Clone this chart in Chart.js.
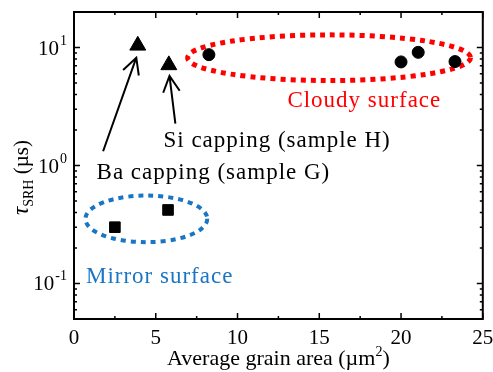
<!DOCTYPE html>
<html>
<head>
<meta charset="utf-8">
<script src="https://cdn.jsdelivr.net/npm/chart.js@4"></script>
<style>
  html, body { margin: 0; padding: 0; background: #fff; }
  canvas { display: block; }
</style>
</head>
<body>
<canvas id="chart" width="493" height="372"></canvas>
<script>
// ----- data -----
const mirrorX = [2.5, 5.75];
const mirrorY = [0.30, 0.42];
const cappingX = [3.9, 5.8];
const cappingY = [10.4, 7.1];
const cloudyX = [8.25, 20.0, 21.05, 23.3];
const cloudyY = [8.7, 7.55, 9.1, 7.6];

const xTickValues = [0, 5, 10, 15, 20, 25];
const yDecades = [-1, 0, 1];

// dotted groups: [xMin, xMax, yMin, yMax] in data units
const mirrorGroup = [0.7, 8.15, 0.224, 0.556];
const cloudyGroup = [6.95, 24.25, 5.25, 12.8];

// arrows: [tailX, tailY, tipX, tipY]
const baArrow = [1.78, 1.32, 3.81, 8.2];
const siArrow = [6.2, 2.26, 5.84, 5.75];

// labels: text, x start, baseline y
const labels = [
    { text: "Cloudy surface", x: 13.05, y: 3.16, color: "#ff0000" },
    { text: "Si capping (sample H)", x: 5.47, y: 1.43, color: "#000000" },
    { text: "Ba capping (sample G)", x: 1.38, y: 0.775, color: "#000000" },
    { text: "Mirror surface", x: 0.73, y: 0.1, color: "#1a75c4" }
];

const SERIF = "'Liberation Serif', serif";

const toPts = (xs, ys) => xs.map((x, i) => ({ x: x, y: ys[i] }));

/* =========================
        DECORATIONS
========================= */
function drawEllipse(ctx, xs, ys, g, color, width) {
    const x0 = xs.getPixelForValue(g[0]), x1 = xs.getPixelForValue(g[1]);
    const y0 = ys.getPixelForValue(g[3]), y1 = ys.getPixelForValue(g[2]);
    ctx.save();
    ctx.strokeStyle = color;
    ctx.lineWidth = width;
    ctx.setLineDash([5, 5]);
    ctx.beginPath();
    ctx.ellipse((x0 + x1) / 2, (y0 + y1) / 2, (x1 - x0) / 2, (y1 - y0) / 2, 0, 0, Math.PI * 2);
    ctx.stroke();
    ctx.restore();
}

function drawArrow(ctx, xs, ys, a) {
    const tx = xs.getPixelForValue(a[0]), ty = ys.getPixelForValue(a[1]);
    const hx = xs.getPixelForValue(a[2]), hy = ys.getPixelForValue(a[3]);
    const ang = Math.atan2(ty - hy, tx - hx);
    const len = 18, spread = 0.48;
    ctx.save();
    ctx.strokeStyle = "#000";
    ctx.lineWidth = 2;
    ctx.beginPath();
    ctx.moveTo(tx, ty);
    ctx.lineTo(hx, hy);
    ctx.moveTo(hx + len * Math.cos(ang - spread), hy + len * Math.sin(ang - spread));
    ctx.lineTo(hx, hy);
    ctx.lineTo(hx + len * Math.cos(ang + spread), hy + len * Math.sin(ang + spread));
    ctx.stroke();
    ctx.restore();
}

const groupsPlugin = {
    id: "groups",
    beforeDatasetsDraw(chart) {
        const { ctx, scales: { x, y } } = chart;
        drawEllipse(ctx, x, y, mirrorGroup, "#1a75c4", 4);
        drawEllipse(ctx, x, y, cloudyGroup, "#ff0000", 5);
    },
    afterDatasetsDraw(chart) {
        const { ctx, scales: { x, y } } = chart;
        drawArrow(ctx, x, y, baArrow);
        drawArrow(ctx, x, y, siArrow);

        ctx.save();
        ctx.font = "23px " + SERIF;
        ctx.letterSpacing = "1px";
        ctx.textAlign = "left";
        ctx.textBaseline = "alphabetic";
        labels.forEach(l => {
            ctx.fillStyle = l.color;
            ctx.fillText(l.text, x.getPixelForValue(l.x), y.getPixelForValue(l.y));
        });
        ctx.restore();
    }
};

/* =========================
        FRAME + TICKS
========================= */
const framePlugin = {
    id: "frame",
    afterDraw(chart) {
        const { ctx, chartArea: a, scales: { x, y } } = chart;
        ctx.save();
        ctx.strokeStyle = "#000";
        ctx.fillStyle = "#000";

        // x ticks (inward, top and bottom)
        ctx.lineWidth = 1.5;
        for (let v = 0; v <= 25; v += 2.5) {
            const px = x.getPixelForValue(v);
            const len = v % 5 === 0 ? 6 : 3;
            ctx.beginPath();
            ctx.moveTo(px, a.bottom); ctx.lineTo(px, a.bottom - len);
            ctx.moveTo(px, a.top); ctx.lineTo(px, a.top + len);
            ctx.stroke();
        }
        // y ticks (inward, left and right)
        for (let d = -2; d <= 1; d++) {
            for (let m = 1; m <= 9; m++) {
                const v = m * Math.pow(10, d);
                if (v < y.min || v > y.max) continue;
                const py = y.getPixelForValue(v);
                const len = m === 1 ? 6 : 3;
                ctx.beginPath();
                ctx.moveTo(a.left, py); ctx.lineTo(a.left + len, py);
                ctx.moveTo(a.right, py); ctx.lineTo(a.right - len, py);
                ctx.stroke();
            }
        }

        // frame
        ctx.lineWidth = 2;
        ctx.strokeRect(a.left, a.top, a.right - a.left, a.bottom - a.top);

        // x tick labels
        ctx.font = "21px " + SERIF;
        ctx.textAlign = "center";
        ctx.textBaseline = "alphabetic";
        xTickValues.forEach(v => {
            ctx.fillText(String(v), x.getPixelForValue(v), a.bottom + 25);
        });

        // y tick labels 10^n
        yDecades.forEach(d => {
            const py = y.getPixelForValue(Math.pow(10, d));
            const sup = String(d);
            ctx.font = "14px " + SERIF;
            ctx.textAlign = "right";
            ctx.textBaseline = "alphabetic";
            const right = a.left - 7;
            const supW = ctx.measureText(sup).width;
            ctx.fillText(sup, right, py - 3);
            ctx.font = "21px " + SERIF;
            ctx.fillText("10", right - supW - 1, py + 7);
        });

        // x title
        const xt1 = "Average grain area (\u00b5m", xt2 = "2", xt3 = ")";
        ctx.font = "22px " + SERIF;
        const w1 = ctx.measureText(xt1).width, w3 = ctx.measureText(xt3).width;
        ctx.font = "14px " + SERIF;
        const w2 = ctx.measureText(xt2).width;
        let sx = (a.left + a.right) / 2 - (w1 + w2 + w3) / 2;
        const by = 365;
        ctx.textAlign = "left";
        ctx.font = "22px " + SERIF;
        ctx.fillText(xt1, sx, by);
        ctx.font = "14px " + SERIF;
        ctx.fillText(xt2, sx + w1, by - 9);
        ctx.font = "22px " + SERIF;
        ctx.fillText(xt3, sx + w1 + w2, by);

        // y title (rotated)
        ctx.translate(28, (a.top + a.bottom) / 2 + 12);
        ctx.rotate(-Math.PI / 2);
        const tau = "\u03c4", sub = "SRH", rest = " (\u00b5s)";
        ctx.font = "italic 23px " + SERIF;
        const tw = ctx.measureText(tau).width;
        ctx.font = "14px " + SERIF;
        const sw = ctx.measureText(sub).width;
        ctx.font = "21px " + SERIF;
        const rw = ctx.measureText(rest).width;
        let tx = -(tw + sw + rw) / 2;
        ctx.font = "italic 23px " + SERIF;
        ctx.fillText(tau, tx, 0);
        ctx.font = "14px " + SERIF;
        ctx.fillText(sub, tx + tw, 5);
        ctx.font = "21px " + SERIF;
        ctx.fillText(rest, tx + tw + sw, 0);

        ctx.restore();
    }
};

/* =========================
        CHART
========================= */
function build() {
    new Chart(document.getElementById("chart"), {
        type: "scatter",
        data: {
            datasets: [
                {
                    label: "Mirror surface",
                    data: toPts(mirrorX, mirrorY),
                    pointStyle: "rect",
                    pointRadius: 7.5,
                    backgroundColor: "#000",
                    borderColor: "#000"
                },
                {
                    label: "Capping",
                    data: toPts(cappingX, cappingY),
                    pointStyle: "triangle",
                    pointRadius: 9.2,
                    backgroundColor: "#000",
                    borderColor: "#000"
                },
                {
                    label: "Cloudy surface",
                    data: toPts(cloudyX, cloudyY),
                    pointStyle: "circle",
                    pointRadius: 6,
                    backgroundColor: "#000",
                    borderColor: "#000"
                }
            ]
        },
        options: {
            responsive: false,
            animation: false,
            clip: false,
            layout: { padding: { left: 74, top: 12, right: 8, bottom: 53 } },
            plugins: {
                legend: { display: false },
                tooltip: { enabled: false }
            },
            scales: {
                x: { type: "linear", min: 0, max: 25, display: false },
                y: { type: "logarithmic", min: 0.05, max: 20, display: false }
            }
        },
        plugins: [groupsPlugin, framePlugin]
    });
}

Promise.all([
    document.fonts.load("21px 'Liberation Serif'"),
    document.fonts.load("italic 23px 'Liberation Serif'")
]).then(build, build);
</script>
</body>
</html>
